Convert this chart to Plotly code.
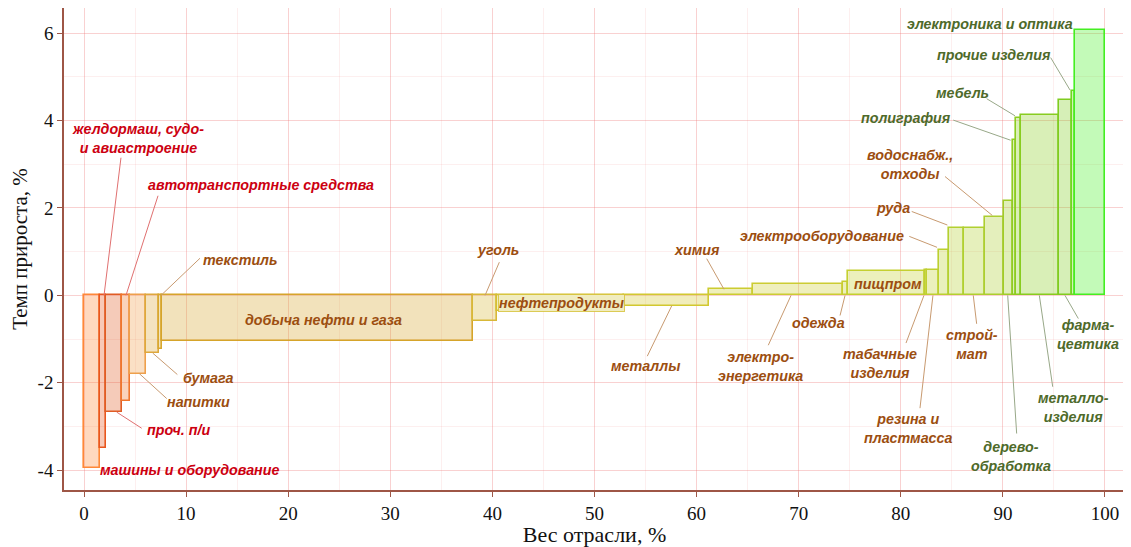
import numpy as np
import plotly.graph_objects as go

# ---- data ----
industries = [
    "машины и оборудование", "желдормаш, судо- и авиастроение", "проч. п/и",
    "автотранспортные средства", "напитки", "бумага", "текстиль",
    "добыча нефти и газа", "уголь", "нефтепродукты", "металлы", "химия",
    "электроэнергетика", "одежда", "пищпром", "табачные изделия",
    "резина и пластмасса", "электрооборудование", "руда", "строймат",
    "водоснабж., отходы", "деревообработка", "полиграфия", "мебель",
    "металлоизделия", "фармацевтика", "прочие изделия", "электроника и оптика",
]
weights = [1.54, 0.61, 1.57, 0.76, 1.56, 1.31, 0.29, 30.43, 2.41, 12.41, 8.35, 4.31,
           8.82, 0.49, 7.50, 0.20, 1.20, 0.98, 1.42, 2.08, 1.87, 0.85, 0.36, 0.48,
           3.72, 1.25, 0.32, 2.91]
growth = [-3.94, -3.49, -2.67, -2.42, -1.79, -1.32, -1.23, -1.04, -0.59, -0.36, -0.24, 0.14,
          0.25, 0.30, 0.56, 0.58, 0.59, 1.05, 1.54, 1.55, 1.79, 2.15, 3.55, 4.07,
          4.12, 4.48, 4.67, 6.07]
x_ticks = [0, 10, 20, 30, 40, 50, 60, 70, 80, 90, 100]
y_ticks = [-4, -2, 0, 2, 4, 6]

# ---- styles ----
bar_rgb = [
    (255, 136, 56), (232, 86, 30), (224, 92, 36), (240, 118, 44), (238, 160, 76),
    (222, 168, 60), (216, 168, 48), (214, 164, 42), (216, 184, 56), (212, 192, 50),
    (210, 200, 48), (204, 204, 48), (204, 204, 51), (200, 204, 48), (196, 208, 48),
    (192, 208, 48), (192, 208, 48), (188, 208, 48), (180, 208, 48), (176, 208, 48),
    (172, 206, 48), (160, 204, 40), (144, 204, 32), (140, 204, 32), (136, 204, 32),
    (128, 204, 32), (112, 216, 32), (68, 238, 34),
]
line_cols = ["rgb(%d,%d,%d)" % c for c in bar_rgb]
fill_cols = ["rgba(%d,%d,%d,0.32)" % c for c in bar_rgb]

RED, BROWN, GREEN = "#cc0010", "#9c4e10", "#4e6a2a"
LRED, LBROWN, LGREEN = "#e07070", "#c89a70", "#98a888"

edges = np.concatenate([[0], np.cumsum(weights)])
mids = (edges[:-1] + edges[1:]) / 2

fig = go.Figure()
fig.add_trace(go.Bar(
    x=mids, y=growth, width=weights, base=0,
    marker=dict(color=fill_cols, line=dict(color=line_cols, width=1.6)),
    hovertext=industries, showlegend=False,
))

# label text: (text, x, y, color, bgcolor)
labels = [
    ("машины и оборудование", 10.38, -4.0, RED, None),
    ("желдормаш, судо-<br>и авиастроение", 5.29, 3.60, RED, None),
    ("проч. п/и", 9.26, -3.08, RED, None),
    ("автотранспортные средства", 17.34, 2.53, RED, None),
    ("напитки", 11.26, -2.44, BROWN, None),
    ("бумага", 12.14, -1.89, BROWN, None),
    ("текстиль", 15.28, 0.82, BROWN, None),
    ("добыча нефти и газа", 23.5, -0.57, BROWN, None),
    ("уголь", 40.5, 1.05, BROWN, None),
    ("нефтепродукты", 46.72, -0.18, BROWN, "rgba(240,236,192,1)"),
    ("металлы", 55.04, -1.62, BROWN, None),
    ("химия", 60.04, 1.05, BROWN, None),
    ("электро-<br>энергетика", 66.21, -1.62, BROWN, None),
    ("одежда", 71.94, -0.62, BROWN, None),
    ("пищпром", 78.75, 0.27, BROWN, None),
    ("табачные<br>изделия", 77.96, -1.55, BROWN, None),
    ("резина и<br>пластмасса", 80.71, -3.04, BROWN, None),
    ("электрооборудование", 72.28, 1.35, BROWN, None),
    ("руда", 79.19, 1.99, BROWN, None),
    ("строй-<br>мат", 86.97, -1.12, BROWN, None),
    ("водоснабж.,<br>отходы", 80.9, 3.0, BROWN, None),
    ("дерево-<br>обработка", 90.79, -3.68, GREEN, None),
    ("полиграфия", 80.54, 4.06, GREEN, None),
    ("мебель", 86.04, 4.64, GREEN, None),
    ("металло-<br>изделия", 96.87, -2.57, GREEN, None),
    ("фарма-<br>цевтика", 98.38, -0.90, GREEN, None),
    ("прочие изделия", 89.13, 5.50, GREEN, None),
    ("электроника и оптика", 88.77, 6.20, GREEN, None),
]

# leader lines: (x0, y0, x1, y1, color)
leaders = [
    (3.62, 3.15, 1.96, 0.0, LRED),
    (7.25, 2.28, 4.11, 0.0, LRED),
    (11.36, 0.85, 7.54, 0.0, LBROWN),
    (9.14, -1.81, 6.73, -1.32, LBROWN),
    (8.10, -2.36, 5.42, -1.79, LBROWN),
    (5.65, -3.04, 3.20, -2.67, LRED),
    (40.68, 0.76, 39.28, 0.0, LBROWN),
    (55.17, -1.39, 57.56, -0.24, LBROWN),
    (60.99, 0.84, 62.68, 0.14, LBROWN),
    (67.02, -1.14, 69.25, 0.0, LBROWN),
    (74.05, -0.46, 74.54, 0.0, LBROWN),
    (80.51, -1.09, 82.27, 0.0, LBROWN),
    (81.88, -2.58, 83.15, 0.0, LBROWN),
    (80.83, 1.35, 83.55, 1.10, LBROWN),
    (81.07, 1.92, 84.56, 1.61, LBROWN),
    (84.33, 2.72, 88.96, 1.83, LBROWN),
    (87.43, -0.65, 87.10, 0.0, LBROWN),
    (91.35, -3.16, 90.47, 0.0, LGREEN),
    (94.88, -2.09, 93.57, 0.0, LGREEN),
    (97.39, -0.53, 96.08, 0.0, LGREEN),
    (85.14, 4.01, 90.76, 3.55, LGREEN),
    (88.41, 4.50, 91.18, 4.11, LGREEN),
    (94.68, 5.44, 96.57, 4.70, LGREEN),
]

for x0, y0, x1, y1, c in leaders:
    fig.add_shape(type="line", x0=x0, y0=y0, x1=x1, y1=y1, xref="x", yref="y",
                  line=dict(color=c, width=1))

lab_font = "Liberation Sans Narrow, Arial Narrow, Liberation Sans, Arial, sans-serif"
for t, x, y, c, bg in labels:
    kw = {}
    if bg:
        kw = dict(bgcolor=bg, bordercolor="rgba(212,192,50,0.8)", borderwidth=1, borderpad=0)
    fig.add_annotation(x=x, y=y, xref="x", yref="y", text=t, showarrow=False,
                       font=dict(family=lab_font, size=14.3, color=c, weight="bold", style="italic"),
                       align="center", **kw)

serif = "Liberation Serif, Times New Roman, serif"
axis_common = dict(
    showline=True, linecolor="#9e5646", linewidth=1.5, mirror=True,
    ticks="outside", ticklen=5, tickcolor="#9e5646", tickwidth=1.2,
    tickfont=dict(family=serif, size=19, color="#111"),
    showgrid=True, gridcolor="rgba(240,120,120,0.25)", gridwidth=1,
    zeroline=False,
)
fig.update_xaxes(range=[-1.96, 101.96], tickvals=x_ticks,
                 minor=dict(dtick=5, tick0=0, showgrid=True, gridcolor="rgba(240,120,120,0.12)", ticks=""),
                 title=dict(text="Вес отрасли, %", font=dict(family=serif, size=22, color="#111"), standoff=2),
                 **axis_common)
fig.update_yaxes(range=[-4.452, 6.575], tickvals=y_ticks, ticktext=[str(v) for v in y_ticks],
                 minor=dict(dtick=1, tick0=0, showgrid=True, gridcolor="rgba(240,120,120,0.12)", ticks=""),
                 title=dict(text="Темп прироста, %", font=dict(family=serif, size=21, color="#111"), standoff=8),
                 **axis_common)

fig.update_layout(
    width=1123, height=539,
    margin=dict(l=56, r=6, t=0, b=57, autoexpand=False),
    plot_bgcolor="white", paper_bgcolor="white",
    bargap=0,
)
fig.write_html("out.html")
